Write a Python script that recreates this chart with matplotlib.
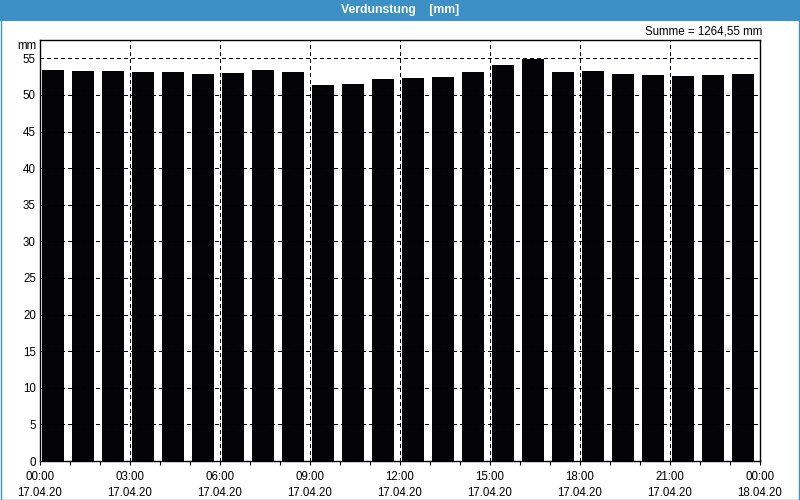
import matplotlib
matplotlib.use("Agg")
import matplotlib.pyplot as plt
from matplotlib.patches import Rectangle
import numpy as np

plt.rcParams['font.family'] = ['Liberation Sans', 'DejaVu Sans']

hours = list(range(24))
values = [53.4, 53.3, 53.3, 53.1, 53.1, 52.8, 53.0, 53.4, 53.1, 51.4, 51.5, 52.2,
          52.3, 52.5, 53.1, 54.1, 54.9, 53.1, 53.3, 52.9, 52.7, 52.6, 52.7, 52.9]
tick_times = ["00:00", "03:00", "06:00", "09:00", "12:00", "15:00", "18:00", "21:00", "00:00"]
tick_dates = ["17.04.20"] * 8 + ["18.04.20"]
y_ticks = [0, 5, 10, 15, 20, 25, 30, 35, 40, 45, 50, 55]
title = "Verdunstung    [mm]"
summe = "Summe = 1264,55 mm"
unit = "mm"

blue = "#3c90c6"
W, H = 800, 500
fig = plt.figure(figsize=(8, 5), dpi=100, facecolor="white")

# title bar and border
fig.patches.append(Rectangle((0, 1 - 21 / H), 1, 21 / H, transform=fig.transFigure,
                             facecolor=blue, edgecolor="none", zorder=0))
fig.patches.append(Rectangle((0.5 / W, 0.5 / H), 1 - 1.5 / W, 1 - 1 / H, transform=fig.transFigure,
                             facecolor="none", edgecolor=blue, linewidth=1.0, zorder=0))
fig.text(0.5, 1 - 10.5 / H, title, color="white", fontsize=8.8, fontweight="bold",
         ha="center", va="center")

ax = fig.add_axes([40 / W, 1 - 461 / H, 720 / W, 421 / H])
ax.set_facecolor("white")
ax.bar(np.array(hours) + 0.077, values, width=0.725, align="edge", color="#040306",
       zorder=2)

ax.set_xlim(0, 24)
ax.set_ylim(0, 57.5)
major = np.arange(0, 25, 3)
ax.set_xticks(major)
ax.set_xticklabels([f"{t}\n{d}" for t, d in zip(tick_times, tick_dates)],
                   fontsize=8.3, linespacing=1.5)
ax.set_xticks(np.arange(0, 25, 1), minor=True)
ax.set_yticks(y_ticks)
ax.set_yticklabels([str(v) for v in y_ticks], fontsize=8.3)
ax.tick_params(axis="x", which="both", direction="out", length=3, width=0.8, pad=4)
ax.tick_params(axis="y", which="both", length=0, pad=3)

dash = (0, (3.0, 3.0))
for y in y_ticks[1:]:
    ax.axhline(y, color="black", linestyle=dash, linewidth=0.75, zorder=3, antialiased=False)
for x in major[1:-1]:
    ax.axvline(x, color="black", linestyle=dash, linewidth=0.75, zorder=3, antialiased=False)

for s in ax.spines.values():
    s.set_linewidth(1.0)
    s.set_color("black")

fig.text(37 / W, 1 - 46 / H, unit, fontsize=8.3, ha="right", va="center")
fig.text(762 / W, 1 - 32 / H, summe, fontsize=8.3, ha="right", va="center")

fig.savefig("out.png", dpi=100, facecolor="white")
